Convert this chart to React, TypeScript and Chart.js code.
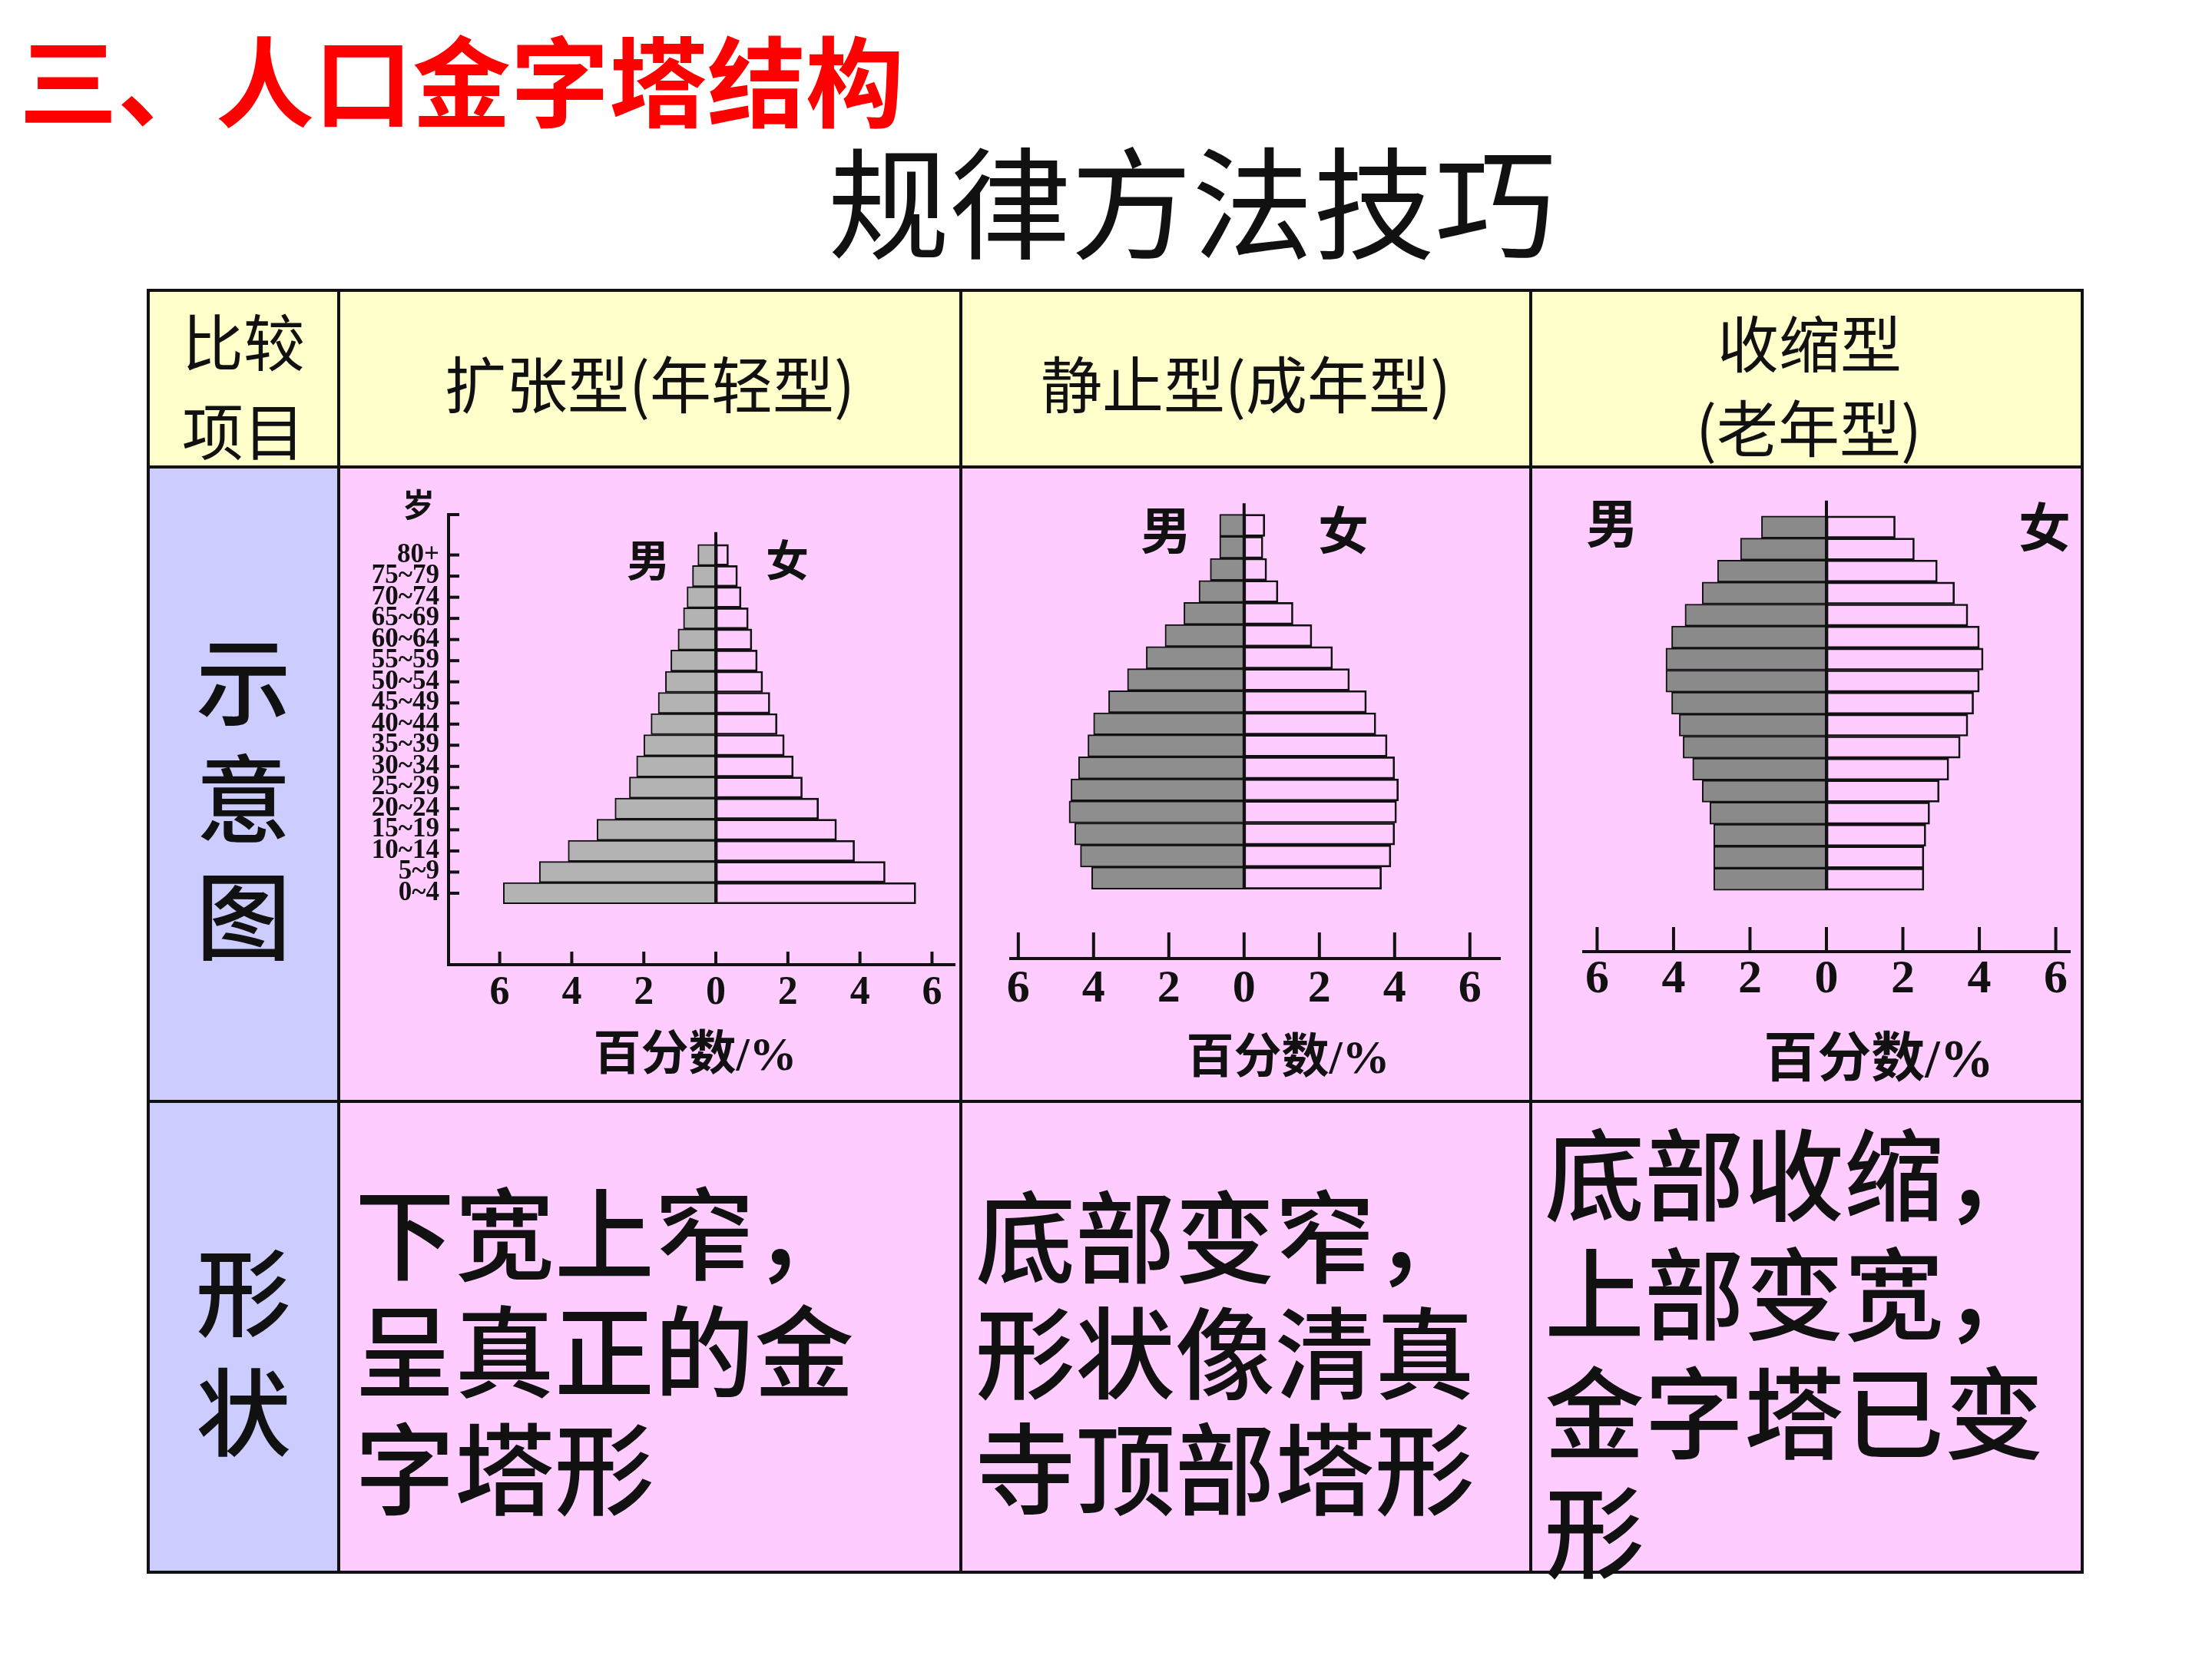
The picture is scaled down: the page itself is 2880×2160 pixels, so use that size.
import React, { useEffect, useRef } from 'react';
import Chart from 'chart.js/auto';

// Age groups, youngest first (index 0 = 0~4)
const ageGroups = ['0~4', '5~9', '10~14', '15~19', '20~24', '25~29', '30~34', '35~39', '40~44',
  '45~49', '50~54', '55~59', '60~64', '65~69', '70~74', '75~79', '80+'];
const percentTicks = [-6, -4, -2, 0, 2, 4, 6];

// 扩张型 (年轻型): share of population by age group, %
const expansiveMale = [5.9, 4.9, 4.1, 3.3, 2.8, 2.4, 2.2, 2.0, 1.8, 1.6, 1.4, 1.25, 1.05, 0.9, 0.8, 0.65, 0.5];
const expansiveFemale = [5.55, 4.7, 3.85, 3.35, 2.85, 2.4, 2.15, 1.9, 1.7, 1.5, 1.3, 1.15, 1.0, 0.9, 0.7, 0.6, 0.35];

// 静止型 (成年型)
const stationaryMale = [4.05, 4.35, 4.5, 4.65, 4.6, 4.4, 4.15, 4.0, 3.6, 3.1, 2.6, 2.1, 1.6, 1.2, 0.9, 0.65, 0.65];
const stationaryFemale = [3.65, 3.9, 4.0, 4.05, 4.1, 4.0, 3.8, 3.5, 3.25, 2.8, 2.35, 1.8, 1.3, 0.9, 0.6, 0.5, 0.55];

// 收缩型 (老年型)
const contractiveMale = [2.95, 2.95, 2.95, 3.05, 3.25, 3.5, 3.75, 3.85, 4.05, 4.2, 4.2, 4.05, 3.7, 3.25, 2.85, 2.25, 1.7];
const contractiveFemale = [2.55, 2.55, 2.6, 2.7, 2.95, 3.2, 3.5, 3.7, 3.85, 4.0, 4.1, 4.0, 3.7, 3.35, 2.9, 2.3, 1.8];

const headerTitles = ['扩张型(年轻型)', '静止型(成年型)'];
const shapeNotes = [
  ['下宽上窄，', '呈真正的金', '字塔形'],
  ['底部变窄，', '形状像清真', '寺顶部塔形'],
  ['底部收缩，', '上部变宽，', '金字塔已变', '形'],
];

const INK = '#111';
const CJK = '"Noto Sans CJK SC", "Noto Sans", sans-serif';
const SERIF_CJK = '"Liberation Serif", "Noto Sans CJK SC", serif';

// Draws inward-facing tick marks and the zero line between the two halves
const axisMarks = {
  id: 'axisMarks',
  afterDatasetsDraw(chart: any, _args: any, opts: any) {
    const { ctx, chartArea, scales } = chart;
    const xs = scales.x;
    const ys = scales.y;
    ctx.save();
    ctx.strokeStyle = INK;
    ctx.lineCap = 'butt';
    if (opts.centerTop != null) {
      const px = xs.getPixelForValue(0);
      ctx.lineWidth = opts.centerWidth;
      ctx.beginPath();
      ctx.moveTo(px, ys.getPixelForValue(opts.centerTop));
      ctx.lineTo(px, ys.getPixelForValue(-0.5));
      ctx.stroke();
    }
    ctx.lineWidth = opts.tickWidth;
    if (opts.xTickLength) {
      for (const t of xs.ticks) {
        const px = xs.getPixelForValue(t.value);
        ctx.beginPath();
        ctx.moveTo(px, chartArea.bottom);
        ctx.lineTo(px, chartArea.bottom - opts.xTickLength);
        ctx.stroke();
      }
    }
    if (opts.yTickLength) {
      for (const t of ys.ticks) {
        const py = ys.getPixelForValue(t.value);
        ctx.beginPath();
        ctx.moveTo(chartArea.left, py);
        ctx.lineTo(chartArea.left + opts.yTickLength, py);
        ctx.stroke();
      }
    }
    ctx.restore();
  },
};

type PyramidSpec = {
  male: number[];
  female: number[];
  maleColor: string;
  box: { left: number; top: number; width: number; height: number };
  padding: { left: number; right: number; top: number; bottom: number };
  xRange: [number, number];
  yRange: [number, number];
  showAges: boolean;
  tickSize: number;
  tickPadding: number;
  xTickLength: number;
  centerTop: number;
};

function Pyramid({ spec }: { spec: PyramidSpec }) {
  const ref = useRef<HTMLCanvasElement | null>(null);
  useEffect(() => {
    if (!ref.current) return;
    const indexTicks = ageGroups.map((_, i) => i);
    const barStyle = {
      borderColor: INK,
      borderWidth: 2,
      borderSkipped: false,
      barPercentage: 1,
      categoryPercentage: 1,
    };
    const chart = new Chart(ref.current, {
      type: 'bar',
      data: {
        datasets: [
          {
            label: '男',
            data: spec.male.map((v, i) => ({ x: -v, y: i })),
            backgroundColor: spec.maleColor,
            ...barStyle,
          },
          {
            label: '女',
            data: spec.female.map((v, i) => ({ x: v, y: i })),
            backgroundColor: 'rgba(0,0,0,0)',
            ...barStyle,
          },
        ],
      } as any,
      options: {
        indexAxis: 'y',
        animation: false,
        responsive: false,
        devicePixelRatio: 1,
        layout: { padding: spec.padding },
        plugins: {
          legend: { display: false },
          tooltip: { enabled: false },
          axisMarks: {
            centerTop: spec.centerTop,
            centerWidth: 4,
            tickWidth: 4,
            xTickLength: spec.xTickLength,
            yTickLength: spec.showAges ? 14 : 0,
          },
        } as any,
        scales: {
          x: {
            type: 'linear',
            min: spec.xRange[0],
            max: spec.xRange[1],
            stacked: true,
            offset: false,
            afterBuildTicks: (s: any) => {
              s.ticks = percentTicks.map((v) => ({ value: v }));
            },
            afterFit: (s: any) => {
              s.height = 100;
            },
            grid: { display: false, drawTicks: false, offset: false },
            border: { display: true, color: INK, width: 4 },
            ticks: {
              autoSkip: false,
              maxRotation: 0,
              padding: spec.tickPadding,
              color: INK,
              font: { family: '"Liberation Serif", serif', weight: 'bold', size: spec.tickSize },
              callback: (v: any) => String(Math.abs(Number(v))),
            },
          },
          y: {
            type: 'linear',
            min: spec.yRange[0],
            max: spec.yRange[1],
            stacked: true,
            offset: false,
            display: spec.showAges,
            afterBuildTicks: (s: any) => {
              const vals = spec.showAges ? [...indexTicks, spec.yRange[1]] : indexTicks;
              s.ticks = vals.map((v) => ({ value: v }));
            },
            afterFit: (s: any) => {
              s.width = spec.showAges ? 110 : 0;
            },
            grid: { display: false, drawTicks: false, offset: false },
            border: { display: true, color: INK, width: 4 },
            ticks: {
              autoSkip: false,
              padding: 12,
              color: INK,
              font: { family: '"Liberation Serif", serif', weight: 'bold', size: 35 },
              callback: (v: any) => ageGroups[Number(v)] ?? '',
            },
          },
        },
      } as any,
      plugins: [axisMarks as any],
    });
    return () => chart.destroy();
  }, [spec]);
  const { left, top, width, height } = spec.box;
  return (
    <canvas
      ref={ref}
      width={width}
      height={height}
      style={{ position: 'absolute', left, top, width, height }}
    />
  );
}

const pyramids: PyramidSpec[] = [
  {
    male: expansiveMale,
    female: expansiveFemale,
    maleColor: '#b3b3b3',
    box: { left: 441, top: 608, width: 810, height: 826 },
    padding: { left: 33, right: 8, top: 62, bottom: 78 },
    xRange: [-7.42, 6.63],
    yRange: [-3.38, 17.91],
    showAges: true,
    tickSize: 52,
    tickPadding: 6,
    xTickLength: 17,
    centerTop: 17.08,
  },
  {
    male: stationaryMale,
    female: stationaryFemale,
    maleColor: '#8e8e8e',
    box: { left: 1251, top: 608, width: 742, height: 826 },
    padding: { left: 65, right: 40, top: 47, bottom: 86 },
    xRange: [-6.2, 6.8],
    yRange: [-3.65, 17.01],
    showAges: false,
    tickSize: 60,
    tickPadding: 4,
    xTickLength: 34,
    centerTop: 17.0,
  },
  {
    male: contractiveMale,
    female: contractiveFemale,
    maleColor: '#8a8a8a',
    box: { left: 1993, top: 608, width: 720, height: 826 },
    padding: { left: 69, right: 18, top: 43, bottom: 95 },
    xRange: [-6.35, 6.37],
    yRange: [-3.29, 17.23],
    showAges: false,
    tickSize: 62,
    tickPadding: 0,
    xTickLength: 32,
    centerTop: 17.2,
  },
];

type TextProps = {
  x: number;
  y: number;
  size: number;
  center?: boolean;
  weight?: number | string;
  color?: string;
  family?: string;
  lineHeight?: number;
  children: React.ReactNode;
};

function Text({ x, y, size, center, weight = 400, color = INK, family = CJK, lineHeight, children }: TextProps) {
  const lh = lineHeight ?? size;
  return (
    <div
      style={{
        position: 'absolute',
        left: x,
        top: y - lh / 2,
        transform: center ? 'translateX(-50%)' : undefined,
        fontSize: size,
        lineHeight: `${lh}px`,
        fontWeight: weight as any,
        color,
        fontFamily: family,
        whiteSpace: 'nowrap',
        textAlign: center ? 'center' : 'left',
      }}
    >
      {children}
    </div>
  );
}

function Lines({ x, y, size, step, lines, center }: { x: number; y: number; size: number; step: number; lines: string[]; center?: boolean }) {
  return (
    <>
      {lines.map((line, i) => (
        <Text key={i} x={x} y={y + i * step} size={size} center={center} weight={500}>
          {line}
        </Text>
      ))}
    </>
  );
}

const colX = [193, 441, 1251, 1993, 2711];
const rowY = [378, 608, 1434, 2047];
const LINE = 3.5;

export default function App() {
  const cells: React.ReactNode[] = [];
  for (let r = 0; r < 3; r++) {
    for (let c = 0; c < 4; c++) {
      const bg = r === 0 ? '#ffffcc' : c === 0 ? '#ccccff' : '#ffccff';
      cells.push(
        <div
          key={`c${r}-${c}`}
          style={{
            position: 'absolute',
            left: colX[c],
            top: rowY[r],
            width: colX[c + 1] - colX[c],
            height: rowY[r + 1] - rowY[r],
            background: bg,
          }}
        />
      );
    }
  }
  const rules = [
    ...colX.map((x, i) => (
      <div key={`v${i}`} style={{ position: 'absolute', left: x - LINE / 2, top: rowY[0] - LINE / 2, width: LINE, height: rowY[3] - rowY[0] + LINE, background: INK }} />
    )),
    ...rowY.map((y, i) => (
      <div key={`h${i}`} style={{ position: 'absolute', left: colX[0] - LINE / 2, top: y - LINE / 2, width: colX[4] - colX[0] + LINE, height: LINE, background: INK }} />
    )),
  ];

  return (
    <div
      style={{
        position: 'absolute',
        left: 0,
        top: 0,
        width: 2880,
        height: 2160,
        background: '#ffffff',
        overflow: 'hidden',
        fontFamily: CJK,
      }}
    >
      <Text x={25} y={101} size={128} weight={700} color="#ff0000">三、人口金字塔结构</Text>
      <Text x={1078} y={257} size={158} weight={400}>规律方法技巧</Text>

      {cells}

      {/* header row */}
      <Text x={317} y={441} size={80} center>比较</Text>
      <Text x={317} y={557} size={80} center>项目</Text>
      <Text x={846} y={496} size={80} center>{headerTitles[0]}</Text>
      <Text x={1622} y={496} size={80} center>{headerTitles[1]}</Text>
      <Text x={2356} y={443} size={80} center>收缩型</Text>
      <Text x={2355} y={553} size={80} center>(老年型)</Text>

      {/* row labels */}
      <Lines x={317} y={880} size={124} step={153} lines={['示', '意', '图']} center />
      <Lines x={317} y={1676} size={124} step={156} lines={['形', '状']} center />

      {/* pyramids */}
      {pyramids.map((p, i) => (
        <Pyramid key={i} spec={p} />
      ))}

      {/* chart annotations */}
      <Text x={545} y={655} size={42} weight={700} center>岁</Text>
      <Text x={844} y={726} size={56} weight={700} center>男</Text>
      <Text x={1025} y={726} size={56} weight={700} center>女</Text>
      <Text x={905} y={1372} size={62} weight={700} family={SERIF_CJK} center>百分数/%</Text>

      <Text x={1518} y={686} size={66} weight={700} center>男</Text>
      <Text x={1749} y={686} size={66} weight={700} center>女</Text>
      <Text x={1677} y={1376} size={62} weight={700} family={SERIF_CJK} center>百分数/%</Text>

      <Text x={2099} y={678} size={68} weight={700} center>男</Text>
      <Text x={2662} y={683} size={68} weight={700} center>女</Text>
      <Text x={2446} y={1379} size={70} weight={700} family={SERIF_CJK} center>百分数/%</Text>

      {/* shape notes */}
      <Lines x={462} y={1599} size={130} step={153} lines={shapeNotes[0]} />
      <Lines x={1270} y={1603} size={130} step={151} lines={shapeNotes[1]} />
      <Lines x={2011} y={1522} size={130} step={155} lines={shapeNotes[2]} />

      {rules}
    </div>
  );
}
